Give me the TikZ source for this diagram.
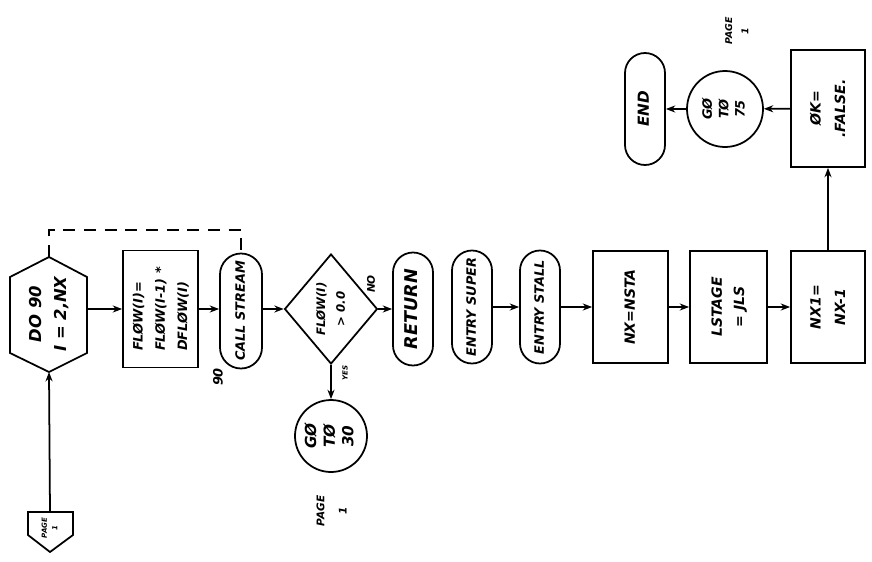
\documentclass[tikz,border=0pt]{standalone}
\usepackage{fontspec}
\setmainfont{DejaVu Sans}
\usetikzlibrary{shapes.geometric,arrows.meta}
% text set sideways, reading upwards, one tabular row per line
\newcommand\vlines[2][c]{\rotatebox{90}{\begin{tabular}{@{}#1@{}}#2\end{tabular}}}

\begin{document}
\begin{tikzpicture}[x=0.3mm,y=-0.3mm,
  line width=1.5pt,
  fs/.style 2 args={font=\bfseries\itshape\fontsize{#1}{#2}\selectfont},
  base/.style={draw, line width=1.5pt, inner sep=0pt, fs={12}{19}},
  proc/.style={base, rectangle},
  term/.style={base, rectangle},
  conn/.style={base, circle},
  decide/.style={base, diamond},
  lbl/.style={inner sep=0pt, fs={9}{14}},
  flowline/.style={-{Stealth[length=8pt,width=6pt]}},
  loopline/.style={dash pattern=on 3.6mm off 2.6mm, line width=1.2pt}]

\useasboundingbox (0,0) rectangle (872,561);

% off-page entry connector
\draw (28,512) -- (73,512) -- (73,535) -- (50,552) -- (28,535) -- cycle;
\node[lbl, fs={6}{9}] (pg0) at (50,528) {\vlines{PAGE\\1}};
\coordinate (pgtop) at (50,512);

% DO loop hexagon
\draw (49,257) -- (87,277) -- (87,353) -- (49,372) -- (10,353) -- (10,277) -- cycle;
\node[lbl, fs={14}{21}] (do) at (49,314) {\vlines{DO 90\\I = 2,NX}};
\coordinate (dotop) at (49,257);
\coordinate (dobot) at (49,372);
\coordinate (doright) at (87,309);

% loop body
\node[proc, fs={11}{19}, minimum width=22.5mm, minimum height=35.1mm] (flow) at (160.5,309)
  {\vlines[l]{FLØW(I)=\\FLØW(I-1) *\\DFLØW(I)}};
\node[term, fs={11}{16}, rounded corners=6.3mm, minimum width=12.6mm, minimum height=34.5mm] (call) at (241,311)
  {\vlines{CALL STREAM}};
\node[lbl, fs={11}{14}] (l90) at (218,377) {\rotatebox{90}{90}};

% test
\node[decide, fs={10}{17}, minimum width=24.9mm, minimum height=33mm] (dia) at (331,309)
  {\vlines{FLØW(I)\\> 0.0}};
\node[lbl, fs={9}{12}] (lno) at (371,284) {\rotatebox{90}{NO}};
\node[lbl, fs={6}{9}] (lyes) at (345,373) {\rotatebox{90}{YES}};

\node[conn, fs={13}{16}, minimum size=21.6mm] (g30) at (331,436) {\vlines{GØ\\TØ\\30}};
\node[lbl, fs={9}{19}] (pg30) at (331,511) {\vlines{PAGE\\1}};

% exit and second entry points
\node[term, fs={15}{18}, rounded corners=6mm, minimum width=12mm, minimum height=33.9mm] (return) at (413,309)
  {\vlines{RETURN}};
\node[term, fs={11}{16}, rounded corners=6mm, minimum width=12mm, minimum height=33.9mm] (super) at (472,307)
  {\vlines{ENTRY SUPER}};
\node[term, fs={11}{16}, rounded corners=6mm, minimum width=12mm, minimum height=33.9mm] (stall) at (540,307)
  {\vlines{ENTRY STALL}};

\node[proc, fs={12}{19}, minimum width=22.5mm, minimum height=33.6mm] (nsta) at (630.5,307)
  {\vlines{NX=NSTA\hspace{6mm}}};
\node[proc, fs={12}{19}, minimum width=23.1mm, minimum height=33.6mm] (lstage) at (728.5,307)
  {\vlines{LSTAGE\\= JLS}};
\node[proc, fs={12}{21}, minimum width=22.2mm, minimum height=33.6mm] (nx1) at (828,307)
  {\vlines{NX1=\\NX-1}};
\node[proc, fs={12}{21}, minimum width=22.2mm, minimum height=35.1mm] (ok) at (828,108.5)
  {\vlines{ØK=\\.FALSE.}};
\node[conn, fs={11}{14}, minimum size=22.8mm] (g75) at (725,109) {\vlines{GØ\\TØ\\75}};
\node[lbl, fs={8}{14}] (pg75) at (737,31) {\vlines{PAGE\\1}};
\node[term, fs={13}{16}, rounded corners=6mm, minimum width=12mm, minimum height=33.6mm] (end) at (645,109)
  {\vlines{END}};

% connectors
\draw[flowline] (pgtop) -- (dobot);
\draw[flowline] (doright) -- (flow.west |- doright);
\draw[flowline] (flow) -- (flow -| call.west);
\draw[flowline] (call.east |- dia) -- (dia);
\draw[flowline] (dia) -- (return);
\draw[flowline] (dia) -- (g30);
\draw[flowline] (super) -- (super -| stall.west);
\draw[flowline] (stall) -- (stall -| nsta.west);
\draw[flowline] (nsta) -- (lstage);
\draw[flowline] (lstage) -- (nx1);
\draw[flowline] (nx1) -- (ok);
\draw[flowline] (ok) -- (g75);
\draw[flowline] (g75) -- (end);
\draw[loopline] (dotop) -- ++(0,-27) -| (call.north);
\end{tikzpicture}
\end{document}
